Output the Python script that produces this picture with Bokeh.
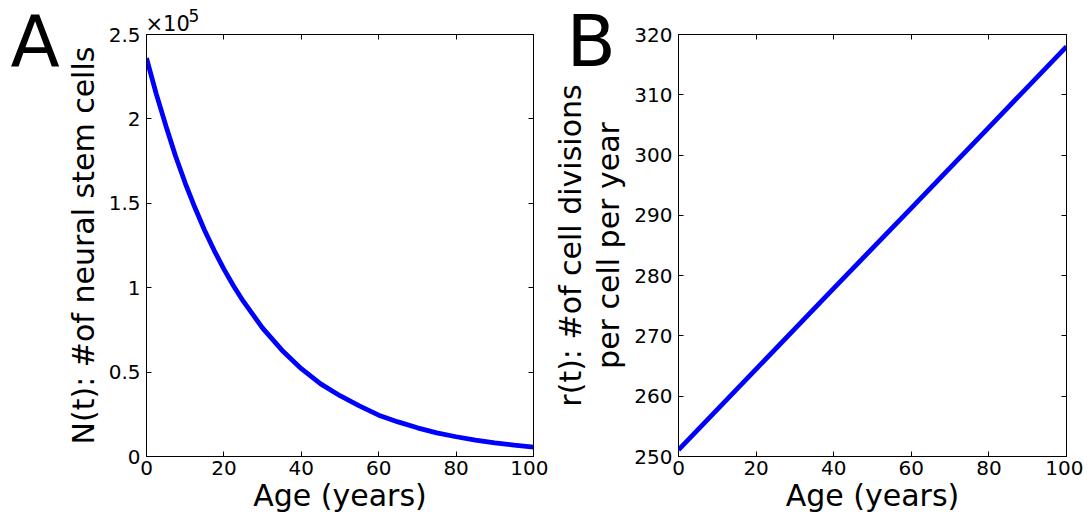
from bokeh.plotting import figure
from bokeh.models import Range1d, LinearAxis, FixedTicker, Title, CustomJSTickFormatter
from bokeh.layouts import row
from bokeh.embed import file_html
from bokeh.resources import INLINE

# ---- data ----
age_a = [0, 2.5, 5, 7.5, 10, 12.5, 15, 17.5, 20, 22.5, 25, 27.5, 30, 35, 40, 45, 50,
         55, 60, 65, 70, 75, 80, 85, 90, 95, 100]
n_stem = [236000, 215000, 196000, 178000, 162000, 147500, 134000, 122000, 111000, 101000,
          92000, 84000, 76000, 63000, 52000, 43000, 36000, 30000, 24500, 20500, 17000,
          14000, 11700, 9700, 8100, 6700, 5600]

age_b = [0, 20, 40, 60, 80, 100]
r_div = [251.1, 264.5, 277.9, 291.2, 304.6, 318.0]

x_ticks = [0, 20, 40, 60, 80, 100]
a_y_ticks = [0, 50000, 100000, 150000, 200000, 250000]
a_y_labels = ["0", "0.5", "1", "1.5", "2", "2.5"]
b_y_ticks = [250, 260, 270, 280, 290, 300, 310, 320]

FONT = "DejaVu Sans"
BLUE = "#0000ff"


def style_axis(ax):
    ax.major_tick_in = 5
    ax.major_tick_out = 0
    ax.minor_tick_in = 0
    ax.minor_tick_out = 0
    ax.axis_line_color = "black"
    ax.major_tick_line_color = "black"
    ax.major_label_text_font = FONT
    ax.major_label_text_font_size = "20px"
    ax.major_label_text_color = "black"
    ax.axis_label_text_font = FONT
    ax.axis_label_text_font_size = "30px"
    ax.axis_label_text_font_style = "normal"
    ax.axis_label_text_color = "black"


def make_fig(yr, yticks, bl, br, fw):
    p = figure(frame_width=fw, frame_height=422,
               x_range=Range1d(0, 100), y_range=yr,
               output_backend="svg", toolbar_location=None,
               min_border_left=bl, min_border_right=br,
               min_border_top=34, min_border_bottom=62)
    p.grid.visible = False
    p.outline_line_color = "black"
    p.outline_line_width = 1
    p.xaxis.ticker = FixedTicker(ticks=x_ticks)
    p.yaxis.ticker = FixedTicker(ticks=yticks)
    style_axis(p.xaxis[0])
    style_axis(p.yaxis[0])
    p.xaxis[0].major_label_standoff = 4
    p.xaxis[0].axis_label_standoff = 0
    p.yaxis[0].major_label_standoff = 6
    empty = CustomJSTickFormatter(code="return ''")
    top = LinearAxis(ticker=FixedTicker(ticks=x_ticks), formatter=empty)
    right = LinearAxis(ticker=FixedTicker(ticks=yticks), formatter=empty)
    for ax in (top, right):
        style_axis(ax)
        ax.major_label_standoff = 0
        ax.major_label_text_font_size = "1px"
    p.add_layout(top, "above")
    p.add_layout(right, "right")
    return p


def add_title(p, text, size, offset, standoff):
    p.add_layout(Title(text=text, align="left", vertical_align="bottom", offset=offset,
                       standoff=standoff, text_font=FONT, text_font_size=size,
                       text_font_style="normal", text_color="black"), "above")


# ---- panel A ----
pa = make_fig(Range1d(0, 250000), a_y_ticks, 146, 15, 387)
pa.yaxis[0].major_label_overrides = {t: l for t, l in zip(a_y_ticks, a_y_labels)}
pa.below[0].axis_label = "Age (years)"
pa.left[0].axis_label = "N(t): #of neural stem cells"
pa.line(age_a, n_stem, line_color=BLUE, line_width=4.8)
add_title(pa, "×10", "21px", -1, -3.4)
add_title(pa, "5", "17px", 42, -21.6)
add_title(pa, "A", "72px", -136, -142.8)

# ---- panel B ----
pb = make_fig(Range1d(250, 320), b_y_ticks, 130, 17, 388)
pb.below[0].axis_label = "Age (years)"
pb.left[0].axis_label = "r(t): #of cell divisions\nper cell per year"
pb.left[0].axis_label_text_line_height = 1.1
pb.line(age_b, r_div, line_color=BLUE, line_width=4.8)
add_title(pb, "B", "72px", -112, -96)

layout = row(pa, pb)
open("out.html", "w").write(file_html(layout, INLINE))
